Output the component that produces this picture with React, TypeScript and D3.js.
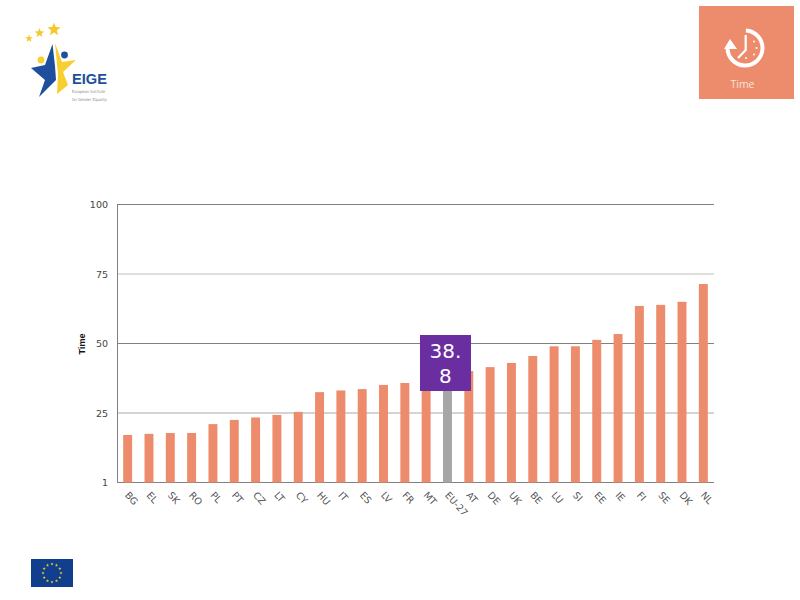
import React from "react";
import * as d3 from "d3";

const countries = ["BG","EL","SK","RO","PL","PT","CZ","LT","CY","HU","IT","ES","LV","FR","MT","EU-27","AT","DE","UK","BE","LU","SI","EE","IE","FI","SE","DK","NL"];
const timeValues = [17.1,17.5,17.8,17.8,21,22.5,23.4,24.3,25.4,32.5,33.1,33.6,35.1,35.8,36.5,38.8,40.1,41.5,43,45.5,49,49,51.3,53.4,63.5,63.9,65,71.4];
const yTicks = [0,25,50,75,100];
const yTickLabels = ["1","25","50","75","100"];
const gridColors = ["#808080","#a9a9a9","#808080","#bdbdbd","#808080"];
const highlight = "EU-27";
const highlightLabel = ["38.", "8"];
const logoStars = [[54,29.5,7],[39.5,33,5],[29,38.5,4]];

const FONT = "'DejaVu Sans', sans-serif";
const ORANGE = "#ec8c6c";

function starPath(cx:number,cy:number,r:number,inner=0.42){
  const pts:[number,number][] = d3.range(10).map(i=>{
    const a = -Math.PI/2 + i*Math.PI/5;
    const rr = i%2 ? r*inner : r;
    return [cx+rr*Math.cos(a), cy+rr*Math.sin(a)];
  });
  return d3.line()(pts)+"Z";
}

export default function App(){
  const x = d3.scaleBand<string>().domain(countries).range([117,714]).paddingInner(0.58).paddingOuter(0.29);
  const y = d3.scaleLinear().domain([0,100]).range([482.5,204.5]);
  const arc = d3.arc()({innerRadius:15.5,outerRadius:19.5,startAngle:0.05,endAngle:Math.PI*1.5} as any) as string;
  const barLeft = x(highlight)!;
  const labelCx = barLeft + x.bandwidth()/2 - 2;
  return (
    <svg width={800} height={600} style={{position:"absolute",left:0,top:0,background:"#fff"}} fontFamily={FONT}>
      {/* EIGE logo */}
      <g>
        {logoStars.map((s,i)=><path key={i} d={starPath(s[0],s[1],s[2])} fill="#f4c92a"/>)}
        <path d="M52.5,44 L55,66 L56,80 L39,97 L45,80 L31,68 L45,65 Z" fill="#1d4f9c"/>
        <path d="M55,43 L62,62 L76,60 L63,72 L68,85 L57,94 L58,74 Z" fill="#f7cf2e"/>
        <circle cx={41} cy={60} r={3.4} fill="#f7cf2e"/>
        <circle cx={64.5} cy={55} r={3.4} fill="#1d4f9c"/>
        <text x={72} y={84} fontSize={15} fontWeight={700} fill="#1d4f9c" fontFamily="'Liberation Sans', sans-serif" textLength={35} lengthAdjust="spacingAndGlyphs">EIGE</text>
        <text x={72} y={93} fontSize={4} fill="#8a8a8a" textLength={33} lengthAdjust="spacingAndGlyphs">European Institute</text>
        <text x={72} y={101} fontSize={4} fill="#8a8a8a" textLength={35} lengthAdjust="spacingAndGlyphs">for Gender Equality</text>
      </g>

      {/* Time tile */}
      <rect x={699} y={6} width={95} height={93} fill={ORANGE}/>
      <g transform="translate(745,48)">
        <path d={arc} fill="#fff"/>
        <path d="M-15,-9 L-21,1 L-8,1 Z" fill="#fff"/>
        <path d="M0.7,-13 L0.7,2 L-7,10" fill="none" stroke="#fff" strokeWidth={2.2}/>
        {[[9,-6.5],[11.5,0],[9,6.5],[1,10]].map((d,i)=><circle key={i} cx={d[0]} cy={d[1]} r={1} fill="#fff"/>)}
      </g>
      <text x={742.5} y={87.5} textAnchor="middle" fontSize={10.5} fill="#fbe3da" fontFamily="'Open Sans', sans-serif">Time</text>

      {/* Grid and axes */}
      {yTicks.map((t,i)=>(
        <g key={t}>
          <line x1={117} x2={714} y1={y(t)} y2={y(t)} stroke={gridColors[i]} strokeWidth={1}/>
          <text x={108} y={y(t)+3.5} textAnchor="end" fontSize={9.5} fill="#444">{yTickLabels[i]}</text>
        </g>
      ))}
      <line x1={117.5} x2={117.5} y1={204.5} y2={482.5} stroke="#808080"/>
      <text transform="translate(85,344) rotate(-90)" textAnchor="middle" fontSize={9} fontWeight={700} fill="#111" fontFamily="'Liberation Sans', sans-serif">Time</text>

      {/* Bars */}
      {countries.map((c,i)=>(
        <rect key={c} x={x(c)} y={y(timeValues[i])} width={x.bandwidth()} height={y(0)-y(timeValues[i])} fill={c===highlight?"#a6a6a6":ORANGE}/>
      ))}

      {/* Category labels */}
      {countries.map(c=>{
        const cx = x(c)!+x.bandwidth()/2;
        return <text key={c} transform={`translate(${cx+0.5},${495}) rotate(48)`} fontSize={9.5} fill="#555" dy={3} dx={-2}>{c}</text>;
      })}

      {/* Highlight label */}
      <rect x={labelCx-25.5} y={335} width={51} height={56} fill="#6a2ea0"/>
      {highlightLabel.map((t,i)=>(
        <text key={i} x={labelCx} y={358+i*24.5} textAnchor="middle" fontSize={20} fill="#fff">{t}</text>
      ))}

      {/* EU flag */}
      <rect x={31} y={559} width={42} height={28} fill="#123f8d"/>
      {d3.range(12).map(i=>{
        const a = i*Math.PI/6;
        return <path key={i} d={starPath(52+9*Math.sin(a),573-9*Math.cos(a),1.6)} fill="#f5d327"/>;
      })}
    </svg>
  );
}
